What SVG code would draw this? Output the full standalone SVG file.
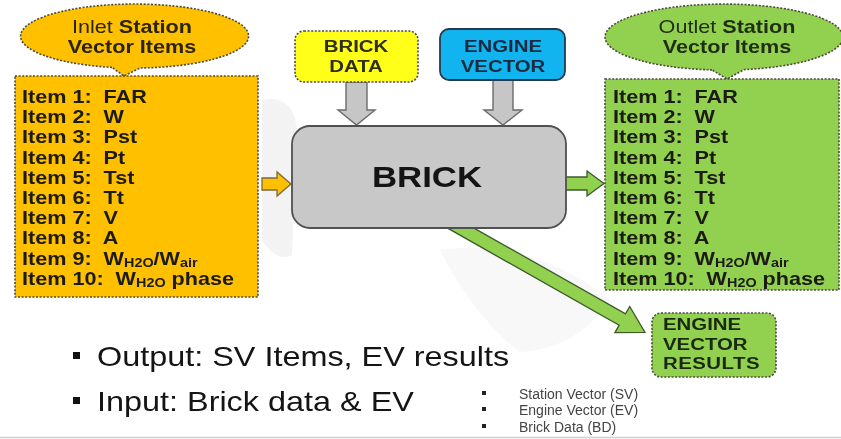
<svg xmlns="http://www.w3.org/2000/svg" width="841" height="439" viewBox="0 0 841 439">
  <style>
    .b { font-family: "Liberation Sans", Arial, sans-serif; font-weight: bold; }
    .r { font-family: "Liberation Sans", Arial, sans-serif; }
    .item { font-size: 18px; fill: #1c1a14; white-space: pre; }
    .sub { font-size: 12px; }
    .dots { stroke: #4d4a3a; stroke-width: 1.6; stroke-dasharray: 2 1.6; }
    .garrow { fill: #c6c6c6; stroke: #6b6b6b; stroke-width: 1.4; }
  </style>
  <rect width="841" height="439" fill="#ffffff"/>

  <!-- faint background watermark -->
  <g id="watermark" fill="#f0f0f0" opacity="0.8">
    <path d="M262 100 C285 95 300 110 296 140 L292 255 C280 262 268 250 262 240 Z"/>
    <path d="M440 250 C500 240 560 260 610 300 C590 330 560 350 520 352 C490 330 460 290 440 250 Z" opacity="0.6"/>
  </g>
  <line x1="0" y1="437.5" x2="841" y2="437.5" stroke="#d0d0d0" stroke-width="1.5"/>

  <!-- connectors -->
  <g id="connectors">
    <!-- inlet items into brick -->
    <polygon points="262,178 277,178 277,172 291,184 277,196 277,190 262,190" fill="#ffc000" stroke="#7a6a3a" stroke-width="1.3"/>
    <!-- brick to outlet items -->
    <polygon points="560,177 587,177 587,171 604,183.5 587,196 587,190 560,190" fill="#92d050" stroke="#3d5a2a" stroke-width="1.3"/>
    <!-- brick data down into brick -->
    <polygon class="garrow" points="346,82 367,82 367,110 375,110 356.5,125 338,110 346,110"/>
    <!-- engine vector down into brick -->
    <polygon class="garrow" points="493,80 513,80 513,110 522,110 503,125 484,110 493,110"/>
    <!-- brick to engine vector results -->
    <polygon transform="translate(450 222) rotate(29.5)" points="0,-6.5 198,-6.5 198,-15 224,0 198,15 198,6.5 0,6.5" fill="#92d050" stroke="#3d5a2a" stroke-width="1.3"/>
  </g>

  <!-- inlet callout -->
  <g id="inlet-label">
    <path d="M112,67.4 A114,32 0 1 1 140,68 L124,76 Z" fill="#ffc000" class="dots"/>
    <text class="r" font-size="18" fill="#2a2410" text-anchor="middle" transform="translate(132 33) scale(1.2 1)">Inlet <tspan class="b">Station</tspan></text>
    <text class="b" font-size="18" fill="#2a2410" text-anchor="middle" transform="translate(132 53) scale(1.2 1)">Vector Items</text>
  </g>

  <!-- inlet items -->
  <g id="inlet-items" xml:space="preserve">
    <rect x="15" y="76" width="243" height="221" fill="#ffc000" class="dots"/>
    <text class="b item" transform="translate(22 103) scale(1.2 1)">Item 1:  FAR</text>
    <text class="b item" transform="translate(22 123.2) scale(1.2 1)">Item 2:  W</text>
    <text class="b item" transform="translate(22 143.4) scale(1.2 1)">Item 3:  Pst</text>
    <text class="b item" transform="translate(22 163.6) scale(1.2 1)">Item 4:  Pt</text>
    <text class="b item" transform="translate(22 183.8) scale(1.2 1)">Item 5:  Tst</text>
    <text class="b item" transform="translate(22 204) scale(1.2 1)">Item 6:  Tt</text>
    <text class="b item" transform="translate(22 224.2) scale(1.2 1)">Item 7:  V</text>
    <text class="b item" transform="translate(22 244.4) scale(1.2 1)">Item 8:  A</text>
    <text class="b item" transform="translate(22 264.6) scale(1.2 1)">Item 9:  W<tspan class="sub" dy="2">H2O</tspan><tspan dy="-2">/W</tspan><tspan class="sub" dy="2">air</tspan></text>
    <text class="b item" transform="translate(22 284.8) scale(1.2 1)">Item 10:  W<tspan class="sub" dy="2">H2O</tspan><tspan dy="-2"> phase</tspan></text>
  </g>

  <!-- brick data -->
  <g id="brick-data">
    <rect x="295" y="31" width="123" height="51" rx="9" fill="#ffff1a" class="dots"/>
    <text class="b" font-size="17" fill="#2e2e1a" text-anchor="middle" transform="translate(356 52) scale(1.2 1)">BRICK</text>
    <text class="b" font-size="17" fill="#2e2e1a" text-anchor="middle" transform="translate(356 72) scale(1.2 1)">DATA</text>
  </g>

  <!-- engine vector -->
  <g id="engine-vector">
    <rect x="440" y="29" width="125" height="51" rx="9" fill="#12b4ef" stroke="#243a52" stroke-width="1.8"/>
    <text class="b" font-size="17" fill="#1a2a40" text-anchor="middle" transform="translate(503 52) scale(1.2 1)">ENGINE</text>
    <text class="b" font-size="17" fill="#1a2a40" text-anchor="middle" transform="translate(503 72) scale(1.2 1)">VECTOR</text>
  </g>

  <!-- brick -->
  <g id="brick">
    <rect x="292" y="126" width="274" height="102" rx="18" fill="#c8c8c8" stroke="#505050" stroke-width="1.8"/>
    <text class="b" font-size="29" fill="#141414" text-anchor="middle" transform="translate(427 187) scale(1.2 1)">BRICK</text>
  </g>

  <!-- outlet callout -->
  <g id="outlet-label">
    <path d="M712,69.9 A119,33 0 1 1 744,69.6 L727,79 Z" fill="#92d050" class="dots"/>
    <text class="r" font-size="18" fill="#1f2e14" text-anchor="middle" transform="translate(727 33) scale(1.2 1)">Outlet <tspan class="b">Station</tspan></text>
    <text class="b" font-size="18" fill="#1f2e14" text-anchor="middle" transform="translate(727 53) scale(1.2 1)">Vector Items</text>
  </g>

  <!-- outlet items -->
  <g id="outlet-items" xml:space="preserve">
    <rect x="605" y="79" width="234" height="211" fill="#92d050" class="dots"/>
    <text class="b item" transform="translate(613 103) scale(1.2 1)">Item 1:  FAR</text>
    <text class="b item" transform="translate(613 123.2) scale(1.2 1)">Item 2:  W</text>
    <text class="b item" transform="translate(613 143.4) scale(1.2 1)">Item 3:  Pst</text>
    <text class="b item" transform="translate(613 163.6) scale(1.2 1)">Item 4:  Pt</text>
    <text class="b item" transform="translate(613 183.8) scale(1.2 1)">Item 5:  Tst</text>
    <text class="b item" transform="translate(613 204) scale(1.2 1)">Item 6:  Tt</text>
    <text class="b item" transform="translate(613 224.2) scale(1.2 1)">Item 7:  V</text>
    <text class="b item" transform="translate(613 244.4) scale(1.2 1)">Item 8:  A</text>
    <text class="b item" transform="translate(613 264.6) scale(1.2 1)">Item 9:  W<tspan class="sub" dy="2">H2O</tspan><tspan dy="-2">/W</tspan><tspan class="sub" dy="2">air</tspan></text>
    <text class="b item" transform="translate(613 284.8) scale(1.2 1)">Item 10:  W<tspan class="sub" dy="2">H2O</tspan><tspan dy="-2"> phase</tspan></text>
  </g>

  <!-- engine vector results -->
  <g id="engine-vector-results">
    <rect x="652" y="313" width="124" height="64" rx="9" fill="#92d050" class="dots"/>
    <text class="b" font-size="17" fill="#1a2a12" transform="translate(663 330) scale(1.2 1)">ENGINE</text>
    <text class="b" font-size="17" fill="#1a2a12" transform="translate(663 350) scale(1.2 1)">VECTOR</text>
    <text class="b" font-size="17" fill="#1a2a12" transform="translate(663 369) scale(1.2 1)" letter-spacing="0.4">RESULTS</text>
  </g>

  <!-- bullet notes -->
  <g id="notes">
    <rect x="73" y="352" width="7" height="7" fill="#111"/>
    <text class="r" font-size="27" fill="#141414" transform="translate(97 366) scale(1.2 1)">Output: SV Items, EV results</text>
    <rect x="73" y="397" width="7" height="7" fill="#111"/>
    <text class="r" font-size="27" fill="#141414" transform="translate(97 411) scale(1.2 1)">Input: Brick data &amp; EV</text>
  </g>

  <!-- abbreviations -->
  <g id="legend" class="r" font-size="14" fill="#444">
    <rect x="482" y="391" width="4" height="4" fill="#222"/>
    <text x="519" y="399">Station Vector (SV)</text>
    <rect x="482" y="407" width="4" height="4" fill="#222"/>
    <text x="519" y="415">Engine Vector (EV)</text>
    <rect x="482" y="424" width="4" height="4" fill="#222"/>
    <text x="519" y="432">Brick Data (BD)</text>
  </g>
</svg>
